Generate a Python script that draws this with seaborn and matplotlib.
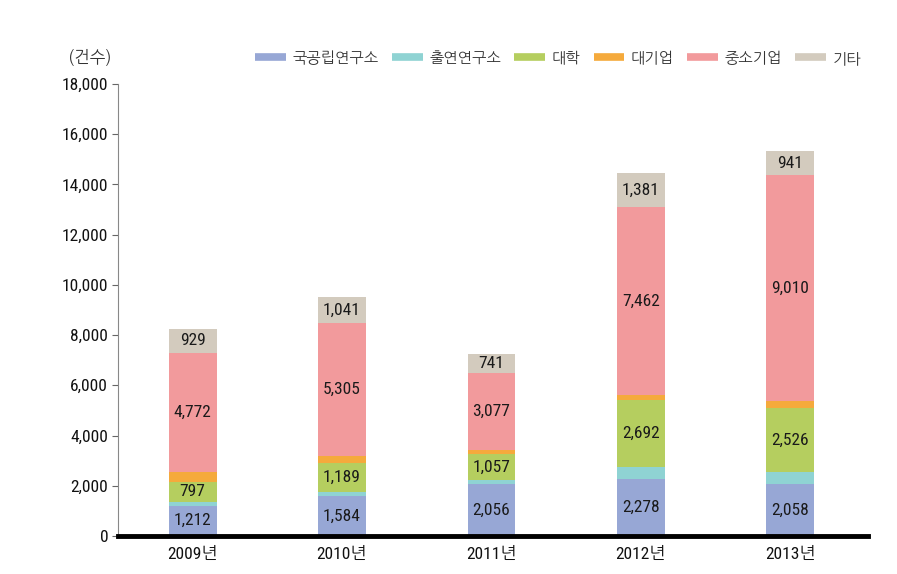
import matplotlib
matplotlib.use("Agg")
import matplotlib.pyplot as plt
import seaborn as sns
import numpy as np
import pandas as pd
from matplotlib.lines import Line2D

sns.set_theme(style="white")
NUM_FONT = ['Roboto Condensed', 'NanumGothic', 'Noto Sans CJK KR', 'DejaVu Sans']
KR_FONT = ['NanumGothic', 'Noto Sans CJK KR', 'DejaVu Sans']
plt.rcParams['font.family'] = NUM_FONT

years = ["2009년", "2010년", "2011년", "2012년", "2013년"]
categories = ["국공립연구소", "출연연구소", "대학", "대기업", "중소기업", "기타"]
national = [1212, 1584, 2056, 2278, 2058]
govfunded = [150, 150, 170, 460, 495]
university = [797, 1189, 1057, 2692, 2526]
large_corp = [370, 250, 140, 200, 290]
sme = [4772, 5305, 3077, 7462, 9010]
others = [929, 1041, 741, 1381, 941]
labeled = {"국공립연구소": True, "출연연구소": False, "대학": True,
           "대기업": False, "중소기업": True, "기타": True}

colors = ["#97A7D5", "#8FD3D3", "#B5CE5F", "#F5AA3C", "#F29A9C", "#D3CBBE"]
series = [national, govfunded, university, large_corp, sme, others]

fig = plt.figure(figsize=(8.97, 5.74), dpi=100)
ax = fig.add_axes([0.1315, 0.0662, 0.836, 0.7875])

cum = np.cumsum(np.array(series), axis=0)
# draw from top (largest cumulative) down so lower segments overlay
for i in range(len(categories) - 1, -1, -1):
    df = pd.DataFrame({"year": years, "val": cum[i]})
    sns.barplot(data=df, x="year", y="val", color=colors[i], width=0.32,
                saturation=1, ax=ax, order=years, errorbar=None, linewidth=0)

for i, cat in enumerate(categories):
    if not labeled[cat]:
        continue
    for j in range(len(years)):
        base = cum[i - 1][j] if i > 0 else 0
        v = series[i][j]
        ax.text(j, base + v / 2, f"{v:,}", ha="center", va="center",
                fontsize=12.5, color="#1a1a1a")

ax.set_xlim(-0.5, 4.52)
ax.set_ylim(0, 18000)
ax.set_yticks(np.arange(0, 18001, 2000))
ax.set_yticklabels([f"{t:,}" for t in range(0, 18001, 2000)], fontsize=12.5, color="#111111")
ax.tick_params(axis="y", length=4, width=0.8, color="#666666", pad=3, left=True)
ax.tick_params(axis="x", length=0, labelsize=12.5, pad=8, labelcolor="#111111")
ax.set_xlabel("")
ax.set_ylabel("")
for s in ["top", "right"]:
    ax.spines[s].set_visible(False)
ax.spines["left"].set_color("#888888")
ax.spines["left"].set_linewidth(0.8)
ax.spines["bottom"].set_color("black")
ax.spines["bottom"].set_linewidth(3.5)

fig.text(0.1, 0.9, "(건수)", fontsize=12, ha="center", va="center",
         family=KR_FONT, color="#333333")

handles = [Line2D([0], [0], color=c, lw=5.5, solid_capstyle="butt") for c in colors]
leg = fig.legend(handles, categories, loc="center right", bbox_to_anchor=(0.972, 0.9),
                 ncol=6, frameon=False, handlelength=2.0, handletextpad=0.45,
                 columnspacing=0.85, borderpad=0.2,
                 prop={'family': KR_FONT, 'size': 11})
for t in leg.get_texts():
    t.set_color("#333333")

fig.savefig("out.png", dpi=100)
